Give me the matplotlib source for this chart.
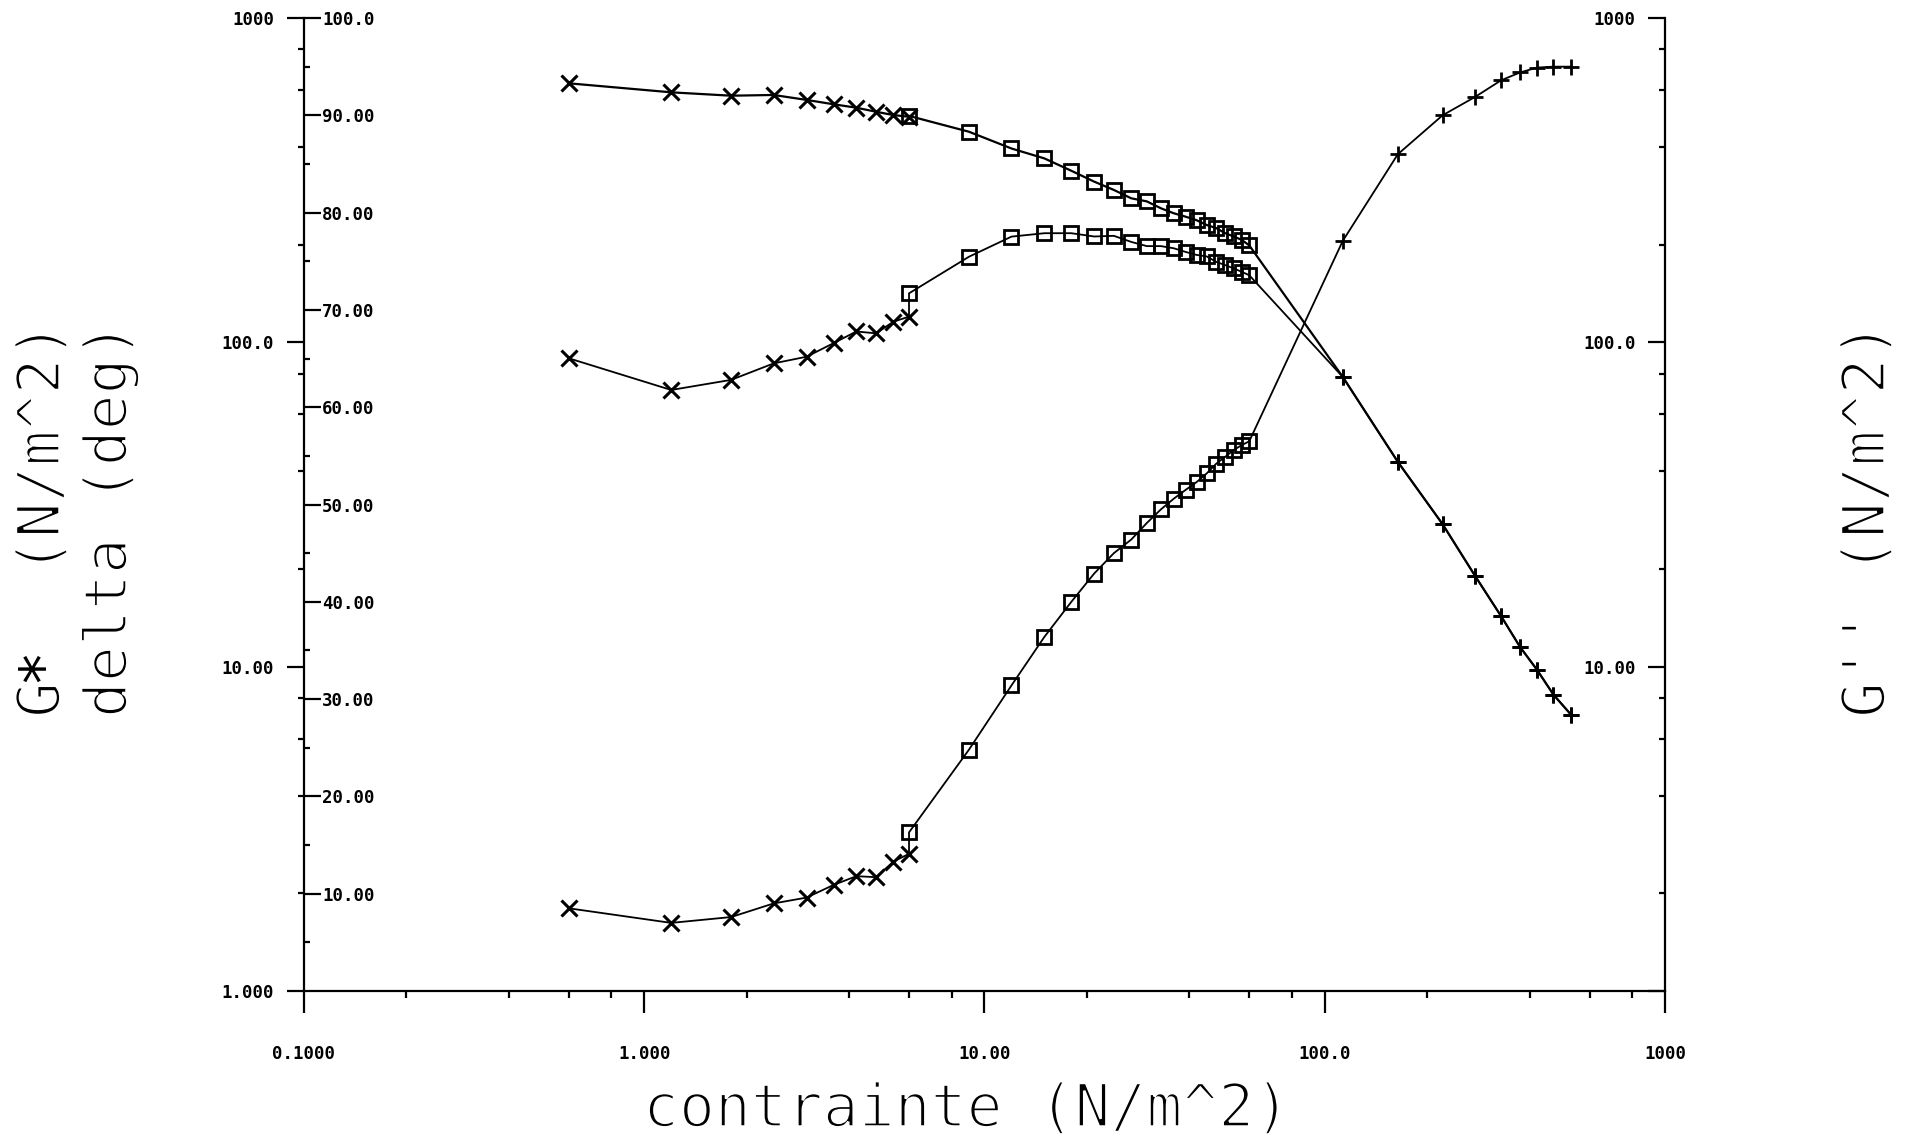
import matplotlib
matplotlib.use("Agg")
import matplotlib.pyplot as plt
import matplotlib.patheffects as pe
from matplotlib.ticker import FixedLocator, NullFormatter

# stress values (N/m^2) of the three measurement runs
stress_x = [0.6, 1.2, 1.8, 2.4, 3.0, 3.6, 4.2, 4.8, 5.4, 6.0]
stress_sq = [6, 9, 12, 15, 18, 21, 24, 27, 30, 33, 36, 39, 42, 45, 48, 51, 54, 57, 60]
stress_plus = [113, 164, 222, 277, 330, 375, 420, 470, 530]

# complex modulus G* (N/m^2)
gstar_x = [629, 590, 576, 579, 559, 542, 529, 514, 502, 496]
gstar_sq = [499, 446, 396, 369, 338, 313, 295, 278, 272, 259, 250, 244, 238, 230,
            225, 217, 212, 207, 199]
gstar_plus = [78.2, 42.8, 27.5, 19.0, 14.3, 11.5, 9.8, 8.2, 7.1]

# loss modulus G'' (N/m^2)
gloss_x = [89.3, 71.3, 76.6, 86.1, 90.3, 99.4, 108, 106.6, 115.8, 120]
gloss_sq = [141.6, 183.6, 211.8, 217, 217, 212, 213, 204, 198, 198, 195, 190, 186,
            184, 177, 173, 169, 165, 161]
gloss_plus = [78.2, 42.8, 27.5, 19.0, 14.3, 11.5, 9.8, 8.2, 7.1]

# phase angle delta (deg)
delta_x = [8.5, 7.0, 7.6, 9.0, 9.6, 10.9, 11.8, 11.7, 13.3, 14.1]
delta_sq = [16.3, 24.8, 31.4, 36.4, 40.0, 42.9, 45.0, 46.4, 48.1, 49.5, 50.6, 51.5,
            52.3, 53.2, 54.2, 54.9, 55.6, 56.1, 56.5]
delta_plus = [77.1, 86.0, 90.0, 91.9, 93.6, 94.4, 94.9, 95.0, 95.0]

xticks = [0.1, 1, 10, 100, 1000]
xticklabels = ["0.1000", "1.000", "10.00", "100.0", "1000"]
gticks = [1, 10, 100, 1000]
gticklabels = ["1.000", "10.00", "100.0", "1000"]
gticklabels_right = ["", "10.00", "100.0", "1000"]
dticks = [10, 20, 30, 40, 50, 60, 70, 80, 90, 100]
dticklabels = ["10.00", "20.00", "30.00", "40.00", "50.00", "60.00", "70.00",
               "80.00", "90.00", "100.0"]

MONO = "DejaVu Sans Mono"
tickfont = dict(family=MONO, weight="bold", size=12.5)
# thin the strokes a bit, the original was drawn by a pen plotter
thin = [pe.Normal(), pe.PathPatchEffect(edgecolor="white", facecolor="none", linewidth=1.8)]

fig = plt.figure(figsize=(19.08, 11.43), dpi=100)
ax = fig.add_axes([304 / 1908, 1 - 991 / 1143, (1665 - 304) / 1908, (991 - 18) / 1143])
ax_d = ax.twinx()
ax_r = ax.twinx()


def draw(axis, xs, ys, lw):
    allx = xs[0] + xs[1] + xs[2]
    ally = ys[0] + ys[1] + ys[2]
    axis.plot(allx, ally, color="black", lw=lw, zorder=2)
    axis.plot(xs[0], ys[0], ls="none", marker="x", ms=11.5, mew=2.2, color="black", zorder=3)
    axis.plot(xs[1], ys[1], ls="none", marker="s", ms=9.5, mew=2.0, mfc="none",
              color="black", zorder=3)
    axis.plot(xs[2], ys[2], ls="none", marker="+", ms=11, mew=2.0, color="black", zorder=3)


stresses = [stress_x, stress_sq, stress_plus]
draw(ax, stresses, [gstar_x, gstar_sq, gstar_plus], 1.6)
draw(ax_r, stresses, [gloss_x, gloss_sq, gloss_plus], 1.3)
draw(ax_d, stresses, [delta_x, delta_sq, delta_plus], 1.3)

for a in (ax, ax_d, ax_r):
    a.set_xscale("log")
    a.set_xlim(0.1, 1000)
    a.patch.set_visible(False)
    for s in a.spines.values():
        s.set_visible(False)
        s.set_linewidth(1.6)

# main axis: G* on the left, stress on the bottom
ax.set_yscale("log")
ax.set_ylim(1, 1000)
ax.spines["left"].set_visible(True)
ax.spines["bottom"].set_visible(True)
ax.xaxis.set_major_locator(FixedLocator(xticks))
ax.xaxis.set_minor_locator(FixedLocator([m * 10.0 ** e for e in range(-1, 3) for m in (2, 4, 6, 8)]))
ax.set_xticklabels(xticklabels, fontdict=tickfont)
ax.xaxis.set_minor_formatter(NullFormatter())
ax.tick_params(axis="x", which="major", direction="out", length=16, width=1.6, pad=23)
ax.tick_params(axis="x", which="minor", direction="out", length=5, width=1.6)
ax.yaxis.set_major_locator(FixedLocator(gticks))
ax.yaxis.set_minor_locator(FixedLocator([m * 10.0 ** e for e in range(0, 3) for m in (2, 4, 6, 8)]))
ax.set_yticklabels(gticklabels, fontdict=tickfont)
ax.yaxis.set_minor_formatter(NullFormatter())
ax.tick_params(axis="y", which="major", direction="out", length=12.5, width=1.6, pad=9)
ax.tick_params(axis="y", which="minor", direction="out", length=4, width=1.6)

# delta: linear scale drawn on the left spine, labels inside
ax_d.set_ylim(0, 100)
ax_d.yaxis.set_ticks_position("left")
ax_d.yaxis.set_label_position("left")
ax_d.yaxis.set_major_locator(FixedLocator(dticks))
ax_d.yaxis.set_minor_locator(FixedLocator([5, 15, 25, 35, 45, 55, 65, 75, 85, 95]))
ax_d.set_yticklabels(dticklabels, fontdict=tickfont)
ax_d.yaxis.set_minor_formatter(NullFormatter())
ax_d.tick_params(axis="y", which="major", direction="in", length=12, width=1.6, pad=-13)
ax_d.tick_params(axis="y", which="minor", direction="in", length=4, width=1.6)
for t in ax_d.get_yticklabels():
    t.set_ha("left")
ax_d.tick_params(axis="x", which="both", bottom=False, top=False, labelbottom=False)

# G'': same log scale on the right spine, labels inside
ax_r.set_yscale("log")
ax_r.set_ylim(1, 1000)
ax_r.spines["right"].set_visible(True)
ax_r.yaxis.set_major_locator(FixedLocator(gticks))
ax_r.yaxis.set_minor_locator(FixedLocator([m * 10.0 ** e for e in range(0, 3) for m in (2, 4, 6, 8)]))
ax_r.set_yticklabels(gticklabels_right, fontdict=tickfont)
ax_r.yaxis.set_minor_formatter(NullFormatter())
ax_r.tick_params(axis="y", which="major", direction="in", length=12.5, width=1.6, pad=-21)
ax_r.tick_params(axis="y", which="minor", direction="in", length=4, width=1.6)
for t in ax_r.get_yticklabels():
    t.set_ha("right")
ax_r.tick_params(axis="x", which="both", bottom=False, top=False, labelbottom=False)

labelfont = dict(family=MONO, size=43)
fig.text(967 / 1908, 1 - 1110 / 1143, "contrainte (N/m^2)", ha="center", va="center",
         path_effects=thin, **labelfont)

# rotated labels anchored at the start of the line
ybot = 1 - 718 / 1143
cell = 43 * 0.602 * 100 / 72 / 1143   # one monospace character, in figure height
vert = dict(rotation=90, rotation_mode="anchor", ha="left", va="center", **labelfont)
# G* label in pieces so the asterisk keeps its full weight
fig.text(43 / 1908, ybot, "G", path_effects=thin, **vert)
fig.text(43 / 1908, ybot + cell, "*", **vert)
fig.text(43 / 1908, ybot + 4 * cell, "(N/m^2)", path_effects=thin, **vert)
fig.text(110 / 1908, ybot, "delta (deg)", path_effects=thin, **vert)
fig.text(1868 / 1908, ybot, "G'' (N/m^2)", path_effects=thin, **vert)

fig.savefig("out.png", dpi=100)
